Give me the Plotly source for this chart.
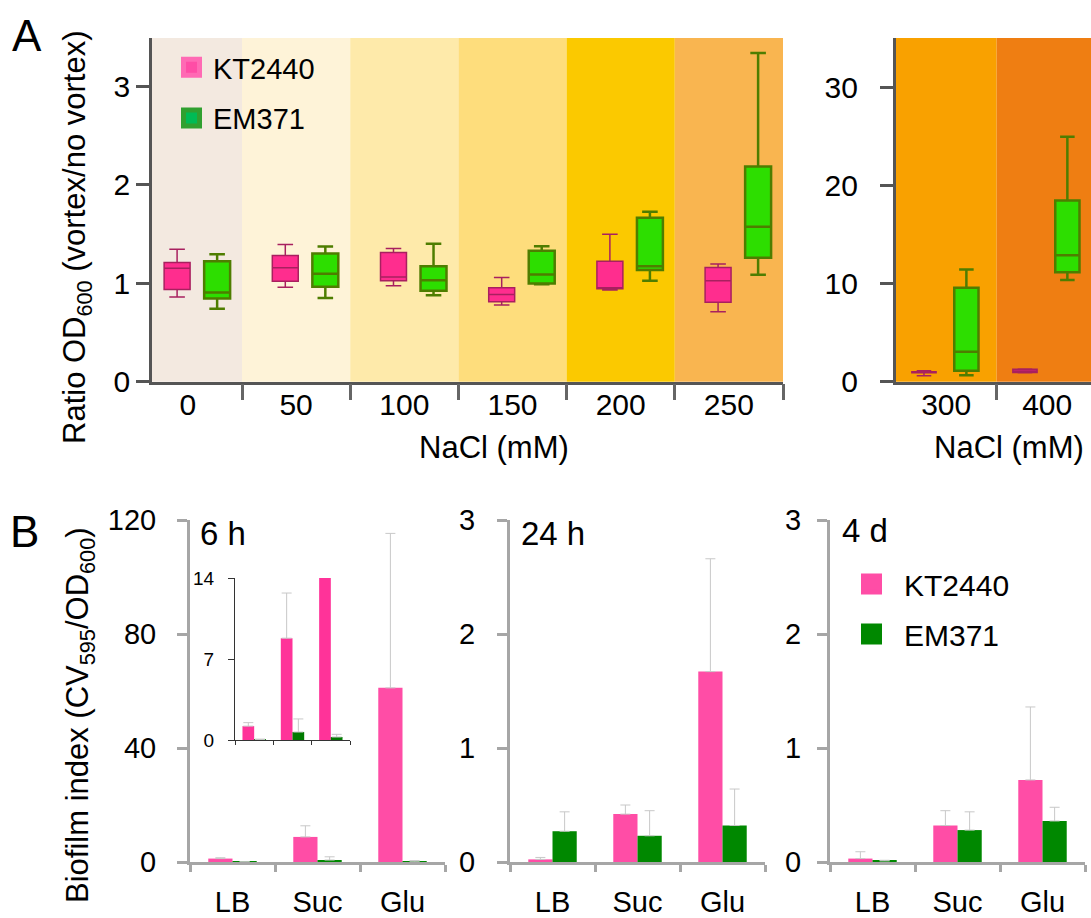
import numpy as np
import plotly.graph_objects as go

W, H = 1091, 918
def px(x): return x / W
def py(y): return 1 - y / H

# ---------------- Panel A data (box statistics) ----------------
nacl_low = ['0', '50', '100', '150', '200', '250']
nacl_high = ['300', '400']

kt_low = [0.86, 0.96, 0.974, 0.778, 0.93, 0.71, 0.61, 0.90]
kt_q1 = [0.937, 1.021, 1.025, 0.812, 0.945, 0.808, 0.92, 0.95]
kt_med = [1.153, 1.157, 1.062, 0.886, 0.955, 1.025, 0.97, 1.10]
kt_q3 = [1.21, 1.282, 1.312, 0.954, 1.224, 1.16, 1.02, 1.26]
kt_up = [1.346, 1.393, 1.353, 1.059, 1.498, 1.194, 1.12, 1.30]

em_low = [0.74, 0.849, 0.879, 0.99, 1.025, 1.086, 0.65, 10.37]
em_q1 = [0.845, 0.964, 0.923, 0.998, 1.133, 1.258, 1.12, 11.16]
em_med = [0.906, 1.096, 1.031, 1.089, 1.173, 1.573, 3.06, 12.89]
em_q3 = [1.224, 1.302, 1.173, 1.329, 1.664, 2.185, 9.59, 18.47]
em_up = [1.295, 1.373, 1.40, 1.376, 1.725, 3.338, 11.43, 24.97]

band_colors = ['#F3E9E0', '#FEF3D8', '#FEEAAA', '#FEDD7C', '#FBC900', '#F9B550',
               '#F9A100', '#EF7E12']

# ---------------- Panel B data (bars + upper error) ----------------
media = ['LB', 'Suc', 'Glu']
kt_6h = [1.2, 8.8, 61.1]
kt_6h_err = [0.3, 3.9, 54.2]
em_6h = [0.05, 0.69, 0.26]
em_6h_err = [0.02, 1.13, 0.23]

kt_24h = [0.023, 0.42, 1.67]
kt_24h_err = [0.017, 0.08, 0.99]
em_24h = [0.27, 0.23, 0.32]
em_24h_err = [0.17, 0.22, 0.32]

kt_4d = [0.03, 0.32, 0.72]
kt_4d_err = [0.06, 0.13, 0.64]
em_4d = [0.01, 0.28, 0.36]
em_4d_err = [0.005, 0.16, 0.12]

FONT = "Liberation Sans, Arial, sans-serif"
PINK_BOX, PINK_LINE = '#FF2D8E', '#A8205F'
GREEN_BOX, GREEN_LINE = '#2DDE00', '#4E7D00'
PINK_BAR, GREEN_BAR = '#FF4DA6', '#008800'
ERR = '#C8C8C8'
AX_A = '#555555'
AX_B = '#A6A6A6'

fig = go.Figure()

nL = len(nacl_low)
xl = np.arange(nL)
xr = np.arange(len(nacl_high))

def box(x, lo, q1, med, q3, up, fill, line, lw, xa, ya):
    return go.Box(x=list(x), lowerfence=lo, q1=q1, median=med, q3=q3, upperfence=up,
                  width=0.24, whiskerwidth=0.6, fillcolor=fill,
                  line=dict(color=line, width=lw), boxpoints=False,
                  xaxis=xa, yaxis=ya, showlegend=False, hoverinfo='skip')

fig.add_trace(box(xl - 0.1, kt_low[:nL], kt_q1[:nL], kt_med[:nL], kt_q3[:nL], kt_up[:nL],
                  PINK_BOX, PINK_LINE, 1.5, 'x', 'y'))
fig.add_trace(box(xl + 0.27, em_low[:nL], em_q1[:nL], em_med[:nL], em_q3[:nL], em_up[:nL],
                  GREEN_BOX, GREEN_LINE, 2.5, 'x', 'y'))
fig.add_trace(box(xr - 0.22, kt_low[nL:], kt_q1[nL:], kt_med[nL:], kt_q3[nL:], kt_up[nL:],
                  PINK_BOX, PINK_LINE, 1.5, 'x2', 'y2'))
fig.add_trace(box(xr + 0.2, em_low[nL:], em_q1[nL:], em_med[nL:], em_q3[nL:], em_up[nL:],
                  GREEN_BOX, GREEN_LINE, 2.5, 'x2', 'y2'))

# legend A
fig.add_trace(go.Scatter(x=[None], y=[None], mode='markers', name='KT2440', legend='legend',
                         legendgroup='a1', xaxis='x', yaxis='y',
                         marker=dict(symbol='square', size=16, color='#FF4DA6',
                                     line=dict(color='#FF6AB4', width=5))))
fig.add_trace(go.Scatter(x=[None], y=[None], mode='markers', name='EM371', legend='legend',
                         legendgroup='a2', xaxis='x', yaxis='y',
                         marker=dict(symbol='square', size=16, color='#00BB55',
                                     line=dict(color='#30A030', width=5))))

# Panel B bars
xb = np.arange(len(media))
def bars(vals, err, color, xa, ya, w, off):
    return go.Bar(x=list(xb), y=vals, width=w, offset=off, marker=dict(color=color, line=dict(width=0)),
                  error_y=dict(type='data', array=err, arrayminus=[0] * len(err), symmetric=False,
                               color=ERR, thickness=1, width=5),
                  xaxis=xa, yaxis=ya, showlegend=False, hoverinfo='skip')

for i, (k, ke, e, ee) in enumerate([(kt_6h, kt_6h_err, em_6h, em_6h_err),
                                    (kt_24h, kt_24h_err, em_24h, em_24h_err),
                                    (kt_4d, kt_4d_err, em_4d, em_4d_err)]):
    xa, ya = 'x%d' % (i + 3), 'y%d' % (i + 3)
    fig.add_trace(bars(k, ke, PINK_BAR, xa, ya, 0.285, -0.285))
    fig.add_trace(bars(e, ee, GREEN_BAR, xa, ya, 0.285, 0.0))

# inset (6 h, zoomed)
fig.add_trace(bars(kt_6h, kt_6h_err, '#FF3399', 'x6', 'y6', 0.305, -0.305))
fig.add_trace(bars(em_6h, em_6h_err, '#007A00', 'x6', 'y6', 0.305, 0.0))

# legend B
fig.add_trace(go.Scatter(x=[None], y=[None], mode='markers', name='KT2440', legend='legend2',
                         legendgroup='b1', xaxis='x5', yaxis='y5',
                         marker=dict(symbol='square', size=16, color=PINK_BAR,
                                     line=dict(color=PINK_BAR, width=5))))
fig.add_trace(go.Scatter(x=[None], y=[None], mode='markers', name='EM371', legend='legend2',
                         legendgroup='b2', xaxis='x5', yaxis='y5',
                         marker=dict(symbol='square', size=16, color=GREEN_BAR,
                                     line=dict(color=GREEN_BAR, width=5))))

# ---------------- background bands (panel A) ----------------
shapes = []
rngL = [-0.332, nL - 0.5]
rngR = [-0.5, 1.434]
for i in range(nL):
    shapes.append(dict(type='rect', xref='x', yref='y domain', layer='below', line=dict(width=0),
                       x0=max(i - 0.5, rngL[0]), x1=min(i + 0.5, rngL[1]), y0=0, y1=1,
                       fillcolor=band_colors[i]))
for i in range(len(nacl_high)):
    shapes.append(dict(type='rect', xref='x2', yref='y2 domain', layer='below', line=dict(width=0),
                       x0=max(i - 0.5, rngR[0]), x1=min(i + 0.5, rngR[1]), y0=0, y1=1,
                       fillcolor=band_colors[nL + i]))

tickfont_A = dict(family=FONT, size=30, color='black')
tickfont_B = dict(family=FONT, size=29, color='black')

def xaxisA(domain, rng, labels, bounds, anchor):
    return dict(domain=domain, range=rng, anchor=anchor, showline=True, linecolor=AX_A, linewidth=2.5,
                showgrid=False, zeroline=False, ticks='', tickmode='array', automargin=False,
                tickvals=list(range(len(labels))), ticktext=labels, tickfont=tickfont_A,
                ticklabelstandoff=-5,
                minor=dict(tickmode='array', tickvals=bounds, ticks='outside', ticklen=16,
                           tickwidth=2.5, tickcolor='#666666', showgrid=False))

def yaxisA(domain, rng, tv, anchor, standoff):
    return dict(domain=domain, range=rng, anchor=anchor, showline=True, linecolor=AX_A, linewidth=2.5,
                showgrid=False, zeroline=False, ticks='outside', ticklen=13, tickwidth=2.5,
                tickcolor=AX_A, tickmode='array', tickvals=tv, tickfont=tickfont_A,
                ticklabelstandoff=standoff, automargin=False)

def xaxisB(domain, anchor):
    return dict(domain=domain, range=[-0.5, len(media) - 0.5], anchor=anchor, showline=True,
                linecolor=AX_B, linewidth=3, showgrid=False, zeroline=False, ticks='',
                tickmode='array', tickvals=list(xb), ticktext=media, tickfont=tickfont_B,
                ticklabelstandoff=12, automargin=False,
                minor=dict(tickmode='array', tickvals=[v - 0.5 for v in range(len(media) + 1)],
                           ticks='outside', ticklen=7, tickwidth=3, tickcolor=AX_B, showgrid=False))

def yaxisB(rng, tv, anchor, standoff):
    return dict(domain=[py(862), py(520)], range=rng, anchor=anchor, showline=True, linecolor=AX_B,
                linewidth=3, showgrid=False, zeroline=False, ticks='outside', ticklen=10,
                tickwidth=3, tickcolor=AX_B, tickmode='array', tickvals=tv, tickfont=tickfont_B,
                ticklabelstandoff=standoff, automargin=False)

yA = [py(381.7), py(38)]
fig.update_layout(
    xaxis=xaxisA([px(152), px(783)], rngL, nacl_low, [v + 0.5 for v in range(nL)], 'y'),
    yaxis=yaxisA(yA, [0, 3.49], [0, 1, 2, 3], 'x', 0),
    xaxis2=xaxisA([px(895.7), 1.0], rngR, nacl_high, [0.5, 1.5], 'y2'),
    yaxis2=yaxisA(yA, [0, 35.05], [0, 10, 20, 30], 'x2', 16),
    xaxis3=xaxisB([px(190), px(445)], 'y3'),
    yaxis3=yaxisB([0, 120], [0, 40, 80, 120], 'x3', 15),
    xaxis4=xaxisB([px(510), px(765)], 'y4'),
    yaxis4=yaxisB([0, 3], [0, 1, 2, 3], 'x4', 16),
    xaxis5=xaxisB([px(830), px(1085)], 'y5'),
    yaxis5=yaxisB([0, 3], [0, 1, 2, 3], 'x5', 10),
    xaxis6=dict(domain=[px(235), px(350)], range=[-0.5, 2.5], anchor='y6', showline=True,
                linecolor='#333333', linewidth=1, showgrid=False, zeroline=False, ticks='',
                showticklabels=False, automargin=False,
                minor=dict(tickmode='array', tickvals=[-0.5, 0.5, 1.5, 2.5], ticks='outside',
                           ticklen=4, tickwidth=1, tickcolor='#333333', showgrid=False)),
    yaxis6=dict(domain=[py(740), py(578)], range=[0, 14], anchor='x6', showline=True,
                linecolor='#333333', linewidth=1, showgrid=False, zeroline=False, ticks='outside',
                ticklen=6, tickwidth=1, tickcolor='#333333', tickmode='array', tickvals=[0, 7, 14],
                tickfont=dict(family=FONT, size=19, color='black'), ticklabelstandoff=10,
                automargin=False),
    shapes=shapes,
    width=W, height=H, margin=dict(l=0, r=0, t=0, b=0, autoexpand=False),
    paper_bgcolor='white', plot_bgcolor='rgba(0,0,0,0)',
    font=dict(family=FONT, color='black'),
    legend=dict(x=px(170), y=py(42), xanchor='left', yanchor='top', bgcolor='rgba(0,0,0,0)',
                font=dict(family=FONT, size=29, color='black'), itemwidth=33, tracegroupgap=10),
    legend2=dict(x=px(839), y=py(558), xanchor='left', yanchor='top', bgcolor='rgba(0,0,0,0)',
                 font=dict(family=FONT, size=30, color='black'), itemwidth=55, tracegroupgap=8),
    showlegend=True,
)

ann = []
def A(text, x, y, size, xanchor='center', yanchor='middle', angle=0):
    ann.append(dict(text=text, x=px(x), y=py(y), xref='paper', yref='paper', showarrow=False,
                    xanchor=xanchor, yanchor=yanchor, textangle=angle,
                    font=dict(family=FONT, size=size, color='black')))

A('A', 27, 35, 44)
A('B', 24, 531, 44)
A('Ratio OD<sub>600</sub> (vortex/no vortex)', 77, 238, 31, angle=-90)
A('Biofilm index (CV<sub>595</sub>/OD<sub>600</sub>)', 80, 715, 31, angle=-90)
A('NaCl (mM)', 494, 447, 31)
A('NaCl (mM)', 1009, 447, 31)
A('6 h', 198, 533, 33, xanchor='left')
A('24 h', 519, 533, 33, xanchor='left')
A('4 d', 840, 530, 33, xanchor='left')
fig.update_layout(annotations=ann)

fig.write_html('out.html', config={'displayModeBar': False},
               post_script="document.body.style.margin='0px';")
